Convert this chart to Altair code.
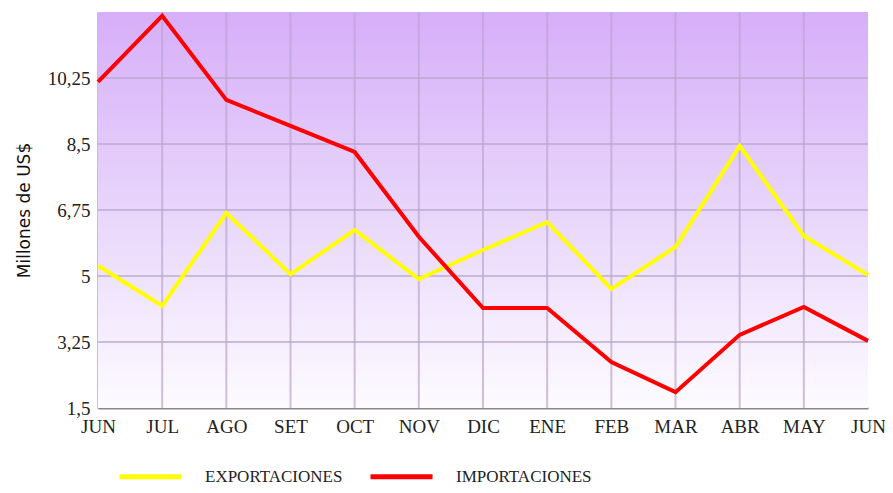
import altair as alt
import pandas as pd

months = ["JUN", "JUL", "AGO", "SET", "OCT", "NOV", "DIC", "ENE", "FEB", "MAR", "ABR", "MAY", "JUN"]
exportaciones = [5.27, 4.21, 6.67, 5.05, 6.22, 4.92, 5.69, 6.43, 4.66, 5.77, 8.45, 6.06, 5.03]
importaciones = [10.15, 11.9, 9.67, 8.98, 8.29, 6.04, 4.15, 4.15, 2.72, 1.92, 3.44, 4.18, 3.28]
series_names = ["EXPORTACIONES", "IMPORTACIONES"]
series_colors = ["#ffff00", "#ff0000"]
y_ticks = [1.5, 3.25, 5, 6.75, 8.5, 10.25]

rows = []
for i, m in enumerate(months):
    rows.append({"idx": i, "mes": m, "serie": series_names[0], "valor": exportaciones[i]})
    rows.append({"idx": i, "mes": m, "serie": series_names[1], "valor": importaciones[i]})
df = pd.DataFrame(rows)

W, H = 770, 396
label_expr = "[" + ",".join("'%s'" % m for m in months) + "][datum.value]"
x_scale = alt.Scale(domain=[0, len(months) - 1], nice=False)
y_scale = alt.Scale(domain=[1.5, 12], nice=False, zero=False)
grid_color = "#bba5cf"

bg = alt.Chart(pd.DataFrame({"a": [0]})).mark_rect(
    color=alt.LinearGradient(
        gradient="linear",
        stops=[alt.GradientStop(color="#d7aef9", offset=0),
               alt.GradientStop(color="#e6d2fa", offset=0.45),
               alt.GradientStop(color="#fdfbff", offset=1)],
        x1=0, x2=0, y1=0, y2=1),
).encode(x=alt.value(0), x2=alt.value(W), y=alt.value(0), y2=alt.value(H))

vgrid = alt.Chart(pd.DataFrame({"idx": list(range(1, len(months) - 1))})).mark_rule(
    color=grid_color, strokeWidth=2, opacity=0.7
).encode(x=alt.X("idx:Q", scale=x_scale))

hgrid = alt.Chart(pd.DataFrame({"valor": y_ticks[1:]})).mark_rule(
    color=grid_color, strokeWidth=2, opacity=0.7
).encode(y=alt.Y("valor:Q", scale=y_scale))

lines = alt.Chart(df).mark_line(strokeWidth=4, strokeJoin="miter").encode(
    x=alt.X("idx:Q", scale=x_scale,
            axis=alt.Axis(values=list(range(len(months))), labelExpr=label_expr,
                          title=None, grid=False, ticks=False,
                          labelFont="Liberation Serif", labelFontSize=19,
                          labelColor="#222222", labelPadding=9,
                          domainColor="#888888", domainWidth=2,
                          labelOverlap=False, labelFlush=False)),
    y=alt.Y("valor:Q", scale=y_scale,
            axis=alt.Axis(values=y_ticks, labelExpr="replace(format(datum.value, ''), '.', ',')",
                          title="Millones de US$", titleFont="DejaVu Sans",
                          titleFontSize=17, titleFontWeight="normal", titleColor="#111111",
                          titlePadding=14, grid=False, ticks=False,
                          labelFont="Liberation Serif", labelFontSize=19,
                          labelColor="#222222", labelPadding=8,
                          domainColor="#888888", domainWidth=2)),
    color=alt.Color("serie:N", scale=alt.Scale(domain=series_names, range=series_colors),
                    legend=alt.Legend(orient="none", legendX=19, legendY=431,
                                      direction="horizontal", title=None,
                                      symbolType="stroke", symbolSize=3844,
                                      symbolStrokeWidth=5, labelOffset=21,
                                      labelFont="Liberation Serif", labelFontSize=17,
                                      labelColor="#222222", columnPadding=17,
                                      gridAlign="all")),
    detail="serie:N",
)

chart = alt.layer(bg, vgrid, hgrid, lines).properties(
    width=W, height=H,
    autosize=alt.AutoSizeParams(type="none"),
    padding={"left": 90, "top": 4, "right": 17, "bottom": 77},
    background="white",
).configure_view(stroke=None)

chart.save("out.html", embed_options={"renderer": "svg", "actions": False})
